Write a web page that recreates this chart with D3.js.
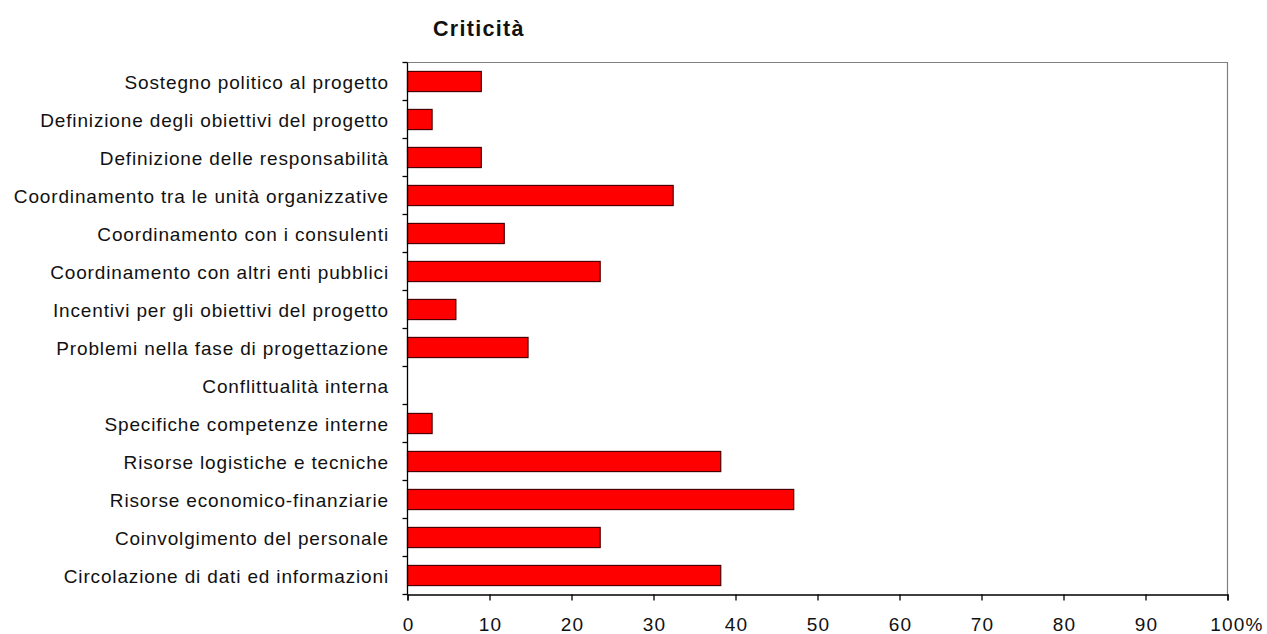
<!DOCTYPE html>
<html><head><meta charset="utf-8">
<script src="https://cdn.jsdelivr.net/npm/d3@7"></script>
<style>body{margin:0;background:#fff;} text{font-family:"Liberation Sans",Arial,sans-serif;}</style>
</head><body>
<svg id="chart" width="1267" height="634"></svg>
<script>
const categories = [
  "Sostegno politico al progetto",
  "Definizione degli obiettivi del progetto",
  "Definizione delle responsabilità",
  "Coordinamento tra le unità organizzative",
  "Coordinamento con i consulenti",
  "Coordinamento con altri enti pubblici",
  "Incentivi per gli obiettivi del progetto",
  "Problemi nella fase di progettazione",
  "Conflittualità interna",
  "Specifiche competenze interne",
  "Risorse logistiche e tecniche",
  "Risorse economico-finanziarie",
  "Coinvolgimento del personale",
  "Circolazione di dati ed informazioni"
];
const values = [9.0, 3.0, 9.0, 32.4, 11.8, 23.5, 5.9, 14.7, 0, 3.0, 38.2, 47.1, 23.5, 38.2];
const xTicks = [0,10,20,30,40,50,60,70,80,90,100];
const title = "Criticità";

const svg = d3.select("#chart");
const m = {left:407.5, right:1227.5, top:62.5, bottom:594.5};
const x = d3.scaleLinear().domain([0,100]).range([m.left, m.right]);
const y = d3.scaleBand().domain(categories).range([m.top, m.bottom]).paddingInner(0.47).paddingOuter(0.235);
const yb = d3.scaleBand().domain(categories).range([m.top, m.bottom]);

// frame top/right
svg.append("path").attr("d",`M${m.left},${m.top}H${m.right}V${m.bottom}`)
  .attr("fill","none").attr("stroke","#808080").attr("stroke-width",1.2);

// bars
svg.append("g").selectAll("rect").data(categories).join("rect")
  .attr("x", x(0))
  .attr("y", (d)=>y(d))
  .attr("width", (d,i)=> Math.max(0, x(values[i]) - x(0)))
  .attr("height", y.bandwidth())
  .attr("fill", "#ff0000")
  .attr("stroke", "#4a0000").attr("stroke-width", 1.2)
  .style("display",(d,i)=>values[i]>0?null:"none");

// y axis
const ga = svg.append("g");
ga.append("line").attr("x1",m.left).attr("x2",m.left).attr("y1",m.top).attr("y2",m.bottom).attr("stroke","#000").attr("stroke-width",1.3);
const sepTicks = d3.range(categories.length+1).map(i=> m.top + i*yb.step());
ga.selectAll("line.t").data(sepTicks).join("line").attr("class","t")
  .attr("x1",m.left-5).attr("x2",m.left).attr("y1",d=>d).attr("y2",d=>d).attr("stroke","#000").attr("stroke-width",1.3);
ga.selectAll("text").data(categories).join("text")
  .attr("x", 389).attr("y", d=>yb(d)+yb.bandwidth()/2)
  .attr("dy","0.42em").attr("text-anchor","end")
  .attr("font-size",19).attr("letter-spacing","0.85px").attr("fill","#111").text(d=>d);

// x axis
const gx = svg.append("g").attr("transform",`translate(0,${m.bottom})`)
  .call(d3.axisBottom(x).tickValues(xTicks).tickSize(6).tickFormat(d=> d===100? "100%": d));
gx.select(".domain").attr("stroke","#000").attr("stroke-width",1.3);
gx.selectAll(".tick line").attr("stroke","#000").attr("stroke-width",1.3);
gx.selectAll(".tick text").attr("font-size",19).attr("letter-spacing","1.2px").attr("fill","#111").attr("y",23)
  .attr("font-family","Liberation Sans, Arial, sans-serif")
  .attr("dx", d=> d===100? "9": "0.6");

// title
svg.append("text").attr("x",433).attr("y",36).attr("font-size",21.5).attr("font-weight","bold")
  .attr("letter-spacing","1.3px").attr("fill","#111").text(title);
</script>
</body></html>
